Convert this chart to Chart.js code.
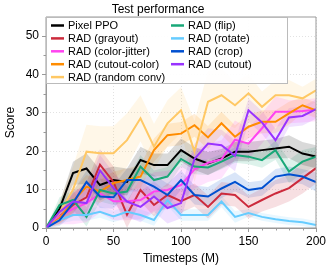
<!DOCTYPE html>
<html><head><meta charset="utf-8">
<script src="https://cdn.jsdelivr.net/npm/chart.js@4.4.1/dist/chart.umd.min.js"></script>
<style>html,body{margin:0;padding:0;background:#fff}#wrap{width:332px;height:266px;position:relative}</style>
</head><body><div id="wrap"><canvas id="c" width="332" height="266"></canvas></div>
<script>
const steps = [0,10,20,30,40,50,60,70,80,90,100,110,120,130,140,150,160,170,180,190,200];

const pixelPPO    = [0, 5, 14.3, 15.5, 11.2, 12.5, 12, 17.7, 16.4, 16.4, 20.3, 18.1, 16.8, 18.1, 19.9, 19.9, 20.3, 20.7, 21.2, 19.4, 18.6];
const grayout     = [0, 3, 6, 8, 16.5, 12, 3.5, 9.9, 6, 8.6, 7, 8.6, 5.5, 9, 8.6, 5.5, 7.3, 9, 10.4, 13, 15.6];
const colorJitter = [0, 3, 5, 6.5, 9, 7, 7, 7.3, 9.5, 9.9, 11.2, 15.3, 17, 17.9, 23, 22, 26, 30.3, 30.3, 30.5, 30.8];
const cutoutColor = [0, 2.5, 7, 10.8, 9.5, 11.7, 12.5, 13.4, 20.3, 24.2, 24.6, 26.8, 23.6, 27.3, 23.8, 26.4, 27.7, 27.7, 29.9, 32, 30.7];
const randomConv  = [0, 4, 10, 19.9, 19.5, 19.5, 22.9, 28.6, 21.2, 27.3, 30.7, 19.9, 32.9, 34.6, 32, 35.1, 31.6, 34.6, 34.6, 33.8, 35.9];
const flip        = [0, 6, 7.3, 2.9, 9.9, 9, 9.5, 16, 12.5, 13.4, 18, 16, 15.8, 17.3, 19, 18.6, 17.7, 20.3, 14.7, 17.3, 18.6];
const rotate      = [0, 2.1, 3.4, 3.4, 4.2, 3, 4.2, 3.4, 2.1, 7.3, 3.4, 3.4, 3.4, 6.9, 2.9, 3.9, 2.9, 2.3, 1.8, 1.5, 0.8];
const crop        = [0, 2, 6.5, 12, 8.2, 8, 12.5, 12.5, 10.8, 8.6, 12.5, 8.6, 8.2, 10.3, 12, 9.9, 10.4, 13.4, 14, 13.4, 12];
const cutout      = [0, 4.2, 6.9, 6.5, 15, 10.4, 6.9, 5.5, 8.2, 5.2, 6.5, 18, 22, 21.6, 18.8, 30.7, 27.5, 22.9, 28.8, 29.2, 31];

// half-width of the shaded bands
const pixelPPOSpread    = [0, 1.5, 3, 4, 4, 3.5, 3.5, 3.5, 3, 3, 3, 3, 3, 2.5, 2.5, 2.5, 2.5, 2.5, 3, 3, 3];
const grayoutSpread     = [0, 1.5, 3, 4, 4, 4, 3.5, 3, 3, 3, 3, 3, 3, 3, 3, 3, 3, 3.5, 3.5, 4, 4];
const colorJitterSpread = [0, 2, 4, 5, 5, 5, 5, 5, 5, 5, 5, 5, 5, 5, 5, 4, 4, 4, 3, 3, 3];
const cutoutColorSpread = [0, 1.5, 3, 3, 3, 3, 3, 3, 3, 3, 3, 3, 3, 3, 3, 3, 3, 3, 3, 2, 2];
const randomConvSpread  = [0, 3, 6, 7, 7, 7, 7, 6, 6, 6, 6, 8, 8, 7, 6, 5, 4, 4, 4, 3, 3];
const flipSpread        = [0, 2, 2.5, 2.5, 3, 3, 3, 3, 2.5, 2.5, 2, 2, 2, 2, 2, 2, 2, 2.5, 3, 3, 2.5];
const rotateSpread      = [0, 1, 1.5, 1.5, 1.5, 1.5, 1.5, 1.5, 1.5, 1.5, 1.5, 1.5, 1.5, 1.5, 1.5, 1, 1, 1, 1, 1, 1];
const cropSpread        = [0, 1.5, 3, 3, 3, 3, 3, 3, 3, 3, 2.5, 2.5, 2.5, 2.5, 2.5, 2, 2, 2, 2, 2, 2.5];
const cutoutSpread      = [0, 2, 3, 4, 4, 4, 4, 4, 4, 4, 4, 4, 4, 4, 4, 3, 3, 3, 2.5, 2.5, 2.5];

const seriesNames = ['Pixel PPO','RAD (grayout)','RAD (color-jitter)','RAD (cutout-color)','RAD (random conv)','RAD (flip)','RAD (rotate)','RAD (crop)','RAD (cutout)'];
const seriesColors = ['#000000','#cc2a3c','#ff44f0','#ff8c00','#ffc864','#18a878','#66ccff','#0050d0','#9933ff'];
const seriesMeans = [pixelPPO, grayout, colorJitter, cutoutColor, randomConv, flip, rotate, crop, cutout];
const seriesSpreads = [pixelPPOSpread, grayoutSpread, colorJitterSpread, cutoutColorSpread, randomConvSpread, flipSpread, rotateSpread, cropSpread, cutoutSpread];

function rgba(hex, a){
  const n = parseInt(hex.slice(1),16);
  return `rgba(${(n>>16)&255},${(n>>8)&255},${n&255},${a})`;
}

const datasets = [];
seriesMeans.forEach((m,i)=>{
  const sp = seriesSpreads[i];
  datasets.push({band:true, data: m.map((v,j)=>({x:steps[j], y:v-sp[j]})), borderWidth:0, pointRadius:0, fill:false, order:500, tension:0});
  datasets.push({band:true, data: m.map((v,j)=>({x:steps[j], y:v+sp[j]})), borderWidth:0, pointRadius:0, fill:'-1', backgroundColor: rgba(seriesColors[i], 0.15), order:500, tension:0});
});
seriesMeans.forEach((m,i)=>{
  datasets.push({label: seriesNames[i], data: m.map((v,j)=>({x:steps[j], y:v})), borderColor: seriesColors[i], backgroundColor: seriesColors[i], borderWidth: 2, pointRadius: 0, fill:false, tension:0, order: 100 - i});
});

const FONT = "'Liberation Sans', Arial, sans-serif";

const framePlugin = {
  id:'frame',
  afterDatasetsDraw(chart){
    const {ctx, chartArea:a, scales:{x,y}} = chart;
    ctx.save();
    ctx.beginPath();
    ctx.rect(a.left, a.top, a.right-a.left, a.bottom-a.top);
    ctx.strokeStyle = '#999'; ctx.lineWidth = 1;
    ctx.stroke();
    ctx.beginPath();
    for (let v=5; v<55; v+=10){ const py = Math.round(y.getPixelForValue(v))+0.5; ctx.moveTo(a.left-2.5, py); ctx.lineTo(a.left, py); }
    for (let v=10; v<200; v+=10){ if (v%50===0) continue; const px = Math.round(x.getPixelForValue(v))+0.5; ctx.moveTo(px, a.bottom); ctx.lineTo(px, a.bottom+2.5); }
    ctx.strokeStyle = '#999'; ctx.stroke();
    ctx.restore();
  },
  afterDraw(chart){
    const {ctx, chartArea:a} = chart;
    ctx.save();
    const bx = a.left, by = a.top, bw = 241, bh = 66;
    ctx.fillStyle = 'rgba(255,255,255,0.92)';
    ctx.fillRect(bx, by, bw, bh);
    ctx.strokeStyle = '#bbb'; ctx.lineWidth = 1;
    ctx.strokeRect(bx+0.5, by+0.5, bw, bh);
    ctx.font = '11px ' + FONT;
    ctx.textBaseline = 'middle';
    seriesNames.forEach((name,i)=>{
      const col = i < 5 ? 0 : 1;
      const row = i < 5 ? i : i - 5;
      const lx = col === 0 ? bx + 5 : bx + 125;
      const ly = by + 8.5 + row * 12.9;
      ctx.beginPath(); ctx.moveTo(lx, ly); ctx.lineTo(lx + 13, ly);
      ctx.strokeStyle = seriesColors[i]; ctx.lineWidth = 2.5; ctx.stroke();
      ctx.fillStyle = '#000';
      ctx.fillText(name, lx + 17, ly + 0.5);
    });
    ctx.restore();
  }
};

new Chart(document.getElementById('c'), {
  type:'line',
  data:{ datasets },
  options:{
    responsive:false, animation:false,
    layout:{ padding:{ left:0, right:16, top:0, bottom:0 } },
    plugins:{
      legend:{ display:false },
      tooltip:{ enabled:false },
      filler:{ drawTime:'beforeDatasetsDraw' },
      title:{ display:true, text:'Test performance', color:'#000', font:{ family:FONT, size:12, weight:'normal' }, padding:{ top:2, bottom:0.6 } }
    },
    scales:{
      x:{
        type:'linear', min:0, max:200,
        ticks:{ stepSize:50, color:'#000', font:{ family:FONT, size:12 }, padding:2, maxRotation:0 },
        grid:{ color:'#e2e2e2', tickColor:'#999', tickLength:4 },
        border:{ color:'#999', dash:[1,2] },
        title:{ display:true, text:'Timesteps (M)', color:'#000', font:{ family:FONT, size:12 }, padding:{ top:0, bottom:0 } },
        afterFit(s){ s.height = 38; }
      },
      y:{
        min:0, max:55,
        ticks:{ stepSize:10, color:'#000', font:{ family:FONT, size:12 }, padding:3 },
        afterBuildTicks(s){ s.ticks = s.ticks.filter(t => t.value % 10 === 0); },
        grid:{ color:'#e2e2e2', tickColor:'#999', tickLength:4 },
        border:{ color:'#999', dash:[1,2] },
        title:{ display:true, text:'Score', color:'#000', font:{ family:FONT, size:12 }, padding:{ top:3, bottom:0 } },
        afterFit(s){ s.width = 46; }
      }
    }
  },
  plugins:[framePlugin]
});
</script></body></html>
